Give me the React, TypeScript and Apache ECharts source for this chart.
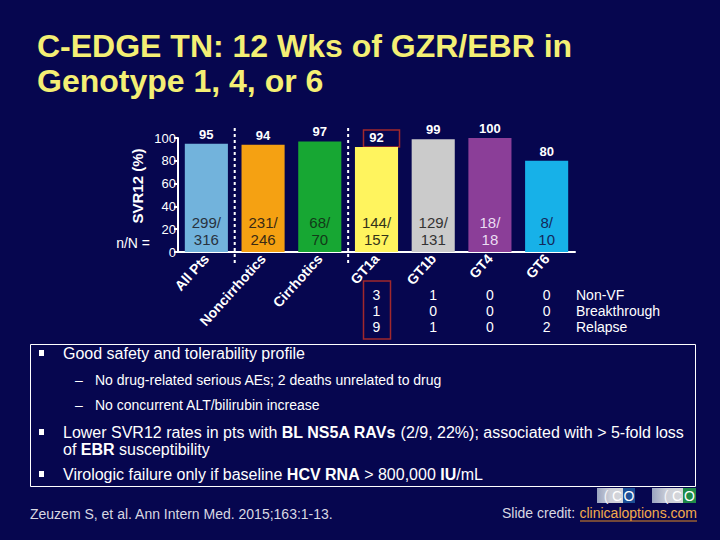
import React, { useEffect, useRef } from "react";
import * as echarts from "echarts";

const categories = ["All Pts", "Noncirrhotics", "Cirrhotics", "GT1a", "GT1b", "GT4", "GT6"];
const svr12 = [95, 94, 97, 92, 99, 100, 80];
const responders = [299, 231, 68, 144, 129, 18, 8];
const totals = [316, 246, 70, 157, 131, 18, 10];
const barColors = ["#72b3dc", "#f5a112", "#17a733", "#fff45e", "#cbcbcb", "#8b3e98", "#17b1e8"];
const nLabelColors = ["#28323e", "#3a2a14", "#123a18", "#33331a", "#333333", "#eadcf2", "#14285a"];
const yMin = 0;
const yMax = 100;
const yInterval = 20;

const gtIndexes = [3, 4, 5, 6];
const failureRowLabels = ["Non-VF", "Breakthrough", "Relapse"];
const nonVF = [3, 1, 0, 0];
const breakthrough = [1, 0, 0, 0];
const relapse = [9, 1, 0, 2];

const titleLines = ["C-EDGE TN: 12 Wks of GZR/EBR in", "Genotype 1, 4, or 6"];
const citation = "Zeuzem S, et al. Ann Intern Med. 2015;163:1-13.";

const FONT = "'Liberation Sans', Arial, sans-serif";
const BG = "#06064f";

export default function App() {
  const ref = useRef<HTMLDivElement>(null);

  useEffect(() => {
    document.body.style.margin = "0";
    const el = ref.current;
    if (!el) return;
    const chart = echarts.init(el, undefined, { renderer: "svg" });

    const option: any = {
      animation: false,
      backgroundColor: BG,
      textStyle: { fontFamily: FONT },
      grid: { left: 178, right: 145, top: 138, bottom: 288 },
      xAxis: {
        type: "category",
        data: categories,
        axisLine: { show: true, lineStyle: { color: "#ffffff", width: 2 } },
        axisTick: { show: false },
        axisLabel: {
          rotate: 48,
          color: "#ffffff",
          fontWeight: "bold",
          fontSize: 14,
          fontFamily: FONT,
          margin: 4,
          interval: 0,
          padding: [0, 0, 0, 0],
        },
      },
      yAxis: {
        type: "value",
        min: yMin,
        max: yMax,
        interval: yInterval,
        axisLine: { show: true, lineStyle: { color: "#ffffff", width: 2 } },
        axisTick: { show: true, length: 4, lineStyle: { color: "#ffffff", width: 2 } },
        splitLine: { show: false },
        axisLabel: { color: "#ffffff", fontSize: 13, fontFamily: FONT, margin: 2 },
      },
      series: [
        {
          type: "bar",
          barCategoryGap: "24%",
          barGap: "-100%",
          data: svr12.map((v, i) => ({ value: v, itemStyle: { color: barColors[i] } })),
          label: {
            show: true,
            position: "top",
            distance: 3,
            color: "#ffffff",
            fontWeight: "bold",
            fontSize: 13,
            fontFamily: FONT,
          },
          silent: true,
        },
        {
          type: "bar",
          barCategoryGap: "24%",
          barGap: "-100%",
          data: svr12.map((v, i) => ({
            value: v,
            label: { color: nLabelColors[i] },
          })),
          itemStyle: { color: "rgba(0,0,0,0)" },
          label: {
            show: true,
            position: "insideBottom",
            distance: 4,
            fontSize: 15,
            lineHeight: 17,
            fontFamily: FONT,
            formatter: (p: any) => `${responders[p.dataIndex]}/\n${totals[p.dataIndex]}`,
          },
          silent: true,
        },
      ],
    };
    chart.setOption(option);

    const cx = (i: number) => chart.convertToPixel({ xAxisIndex: 0 }, i) as number;
    const cy = (v: number) => chart.convertToPixel({ yAxisIndex: 0 }, v) as number;
    const axisRight = cx(categories.length - 1) + (cx(1) - cx(0)) / 2;

    const g: any[] = [];
    const txt = (
      text: string,
      x: number,
      y: number,
      size: number,
      fill: string,
      opts: any = {}
    ) => ({
      type: "text",
      x,
      y,
      silent: true,
      rotation: opts.rotation || 0,
      style: {
        text,
        fill,
        font: `${opts.bold ? "bold " : ""}${size}px ${FONT}`,
        textAlign: opts.align || "left",
        textVerticalAlign: "middle",
        rich: opts.rich,
      },
    });

    // title
    g.push(txt(titleLines[0], 37, 46, 32, "#f4ef74", { bold: true }));
    g.push(txt(titleLines[1], 37, 81, 32, "#f4ef74", { bold: true }));

    // axis name + n/N
    g.push(txt("SVR12 (%)", 137, 186, 15, "#ffffff", { bold: true, align: "center", rotation: Math.PI / 2 }));
    g.push(txt("n/N =", 150, 243, 14, "#ffffff", { align: "right" }));

    // dashed separators
    [[0, 1], [2, 3]].forEach(([a, b]) => {
      const x = (cx(a) + cx(b)) / 2;
      g.push({
        type: "line",
        silent: true,
        shape: { x1: x, y1: 128, x2: x, y2: 266 },
        style: { stroke: "#ffffff", lineWidth: 2, lineDash: [3, 3] },
      });
    });

    // red box around GT1a value label
    const gt1a = 3;
    const topY = cy(svr12[gt1a]);
    g.push({
      type: "rect",
      silent: true,
      shape: { x: cx(gt1a) - 13, y: topY - 17, width: 36, height: 17 },
      style: { fill: "none", stroke: "#a1282c", lineWidth: 1.5 },
    });

    // failure table
    const rows = [nonVF, breakthrough, relapse];
    const rowY = [295, 311, 327];
    rows.forEach((row, r) => {
      row.forEach((v, k) => {
        g.push(txt(String(v), cx(gtIndexes[k]), rowY[r], 14, "#ffffff", { align: "center" }));
      });
      g.push(txt(failureRowLabels[r], axisRight + 1, rowY[r], 14, "#ffffff"));
    });
    g.push({
      type: "rect",
      silent: true,
      shape: { x: cx(gt1a) - 13, y: 281, width: 27, height: 58 },
      style: { fill: "none", stroke: "#a1282c", lineWidth: 1.5 },
    });

    // text box
    g.push({
      type: "rect",
      silent: true,
      shape: { x: 30.5, y: 344.5, width: 665, height: 142 },
      style: { fill: "none", stroke: "#ffffff", lineWidth: 1 },
    });
    const bullet = (y: number) => ({
      type: "rect",
      silent: true,
      shape: { x: 39, y: y - 3, width: 5, height: 6 },
      style: { fill: "#ffffff" },
    });
    const rich = {
      n: { fontSize: 16, fontFamily: FONT, fill: "#ffffff" },
      b: { fontSize: 16, fontFamily: FONT, fill: "#ffffff", fontWeight: "bold" },
    };
    g.push(bullet(353));
    g.push(txt("Good safety and tolerability profile", 63, 353, 16, "#ffffff"));
    g.push(txt("–", 75, 380, 14, "#ffffff"));
    g.push(txt("No drug-related serious AEs; 2 deaths unrelated to drug", 95, 380, 14, "#ffffff"));
    g.push(txt("–", 75, 405, 14, "#ffffff"));
    g.push(txt("No concurrent ALT/bilirubin increase", 95, 405, 14, "#ffffff"));
    g.push(bullet(432));
    g.push(
      txt(
        "{n|Lower SVR12 rates in pts with }{b|BL NS5A RAVs}{n| (2/9, 22%); associated with > 5-fold loss}",
        63,
        432,
        16,
        "#ffffff",
        { rich }
      )
    );
    g.push(txt("{n|of }{b|EBR}{n| susceptibility}", 63, 449, 16, "#ffffff", { rich }));
    g.push(bullet(474));
    g.push(
      txt(
        "{n|Virologic failure only if baseline }{b|HCV RNA}{n| > 800,000 }{b|IU}{n|/mL}",
        63,
        474,
        16,
        "#ffffff",
        { rich }
      )
    );

    // citation & credit
    g.push(txt(citation, 30, 514, 14, "#d8d8e2"));
    g.push(txt("clinicaloptions.com", 697, 513, 14, "#f2aa4c", { align: "right" }));
    g.push(txt("Slide credit: ", 579, 513, 14, "#d8d8e2", { align: "right" }));
    g.push({
      type: "line",
      silent: true,
      shape: { x1: 580, y1: 521, x2: 697, y2: 521 },
      style: { stroke: "#e08a24", lineWidth: 1 },
    });

    // logos
    const logo = (x: number, w: number, blockW: number, blockColor: string) => {
      g.push({
        type: "rect",
        silent: true,
        shape: { x, y: 488, width: w, height: 15 },
        style: {
          fill: new echarts.graphic.LinearGradient(0, 0, 1, 0, [
            { offset: 0, color: "#9aa4c0" },
            { offset: 0.35, color: "#cdd0d8" },
            { offset: 1, color: "#dcdcdc" },
          ]),
        },
      });
      g.push({
        type: "rect",
        silent: true,
        shape: { x: x + w - blockW, y: 488, width: blockW, height: 15 },
        style: { fill: blockColor },
      });
      g.push(txt("(", x + w - blockW - 17, 495.5, 14, "#f4f4f8", { align: "center" }));
      g.push(txt("C", x + w - blockW - 6, 495.5, 14, "#ffffff", { align: "center" }));
      g.push(txt("O", x + w - blockW / 2, 495.5, 14, "#ffffff", { align: "center" }));
    };
    logo(597, 38, 12, "#1d4f96");
    logo(652, 44, 13, "#1f8a48");

    chart.setOption({ graphic: { elements: g } });

    return () => chart.dispose();
  }, []);

  return <div ref={ref} style={{ width: 720, height: 540 }} />;
}
